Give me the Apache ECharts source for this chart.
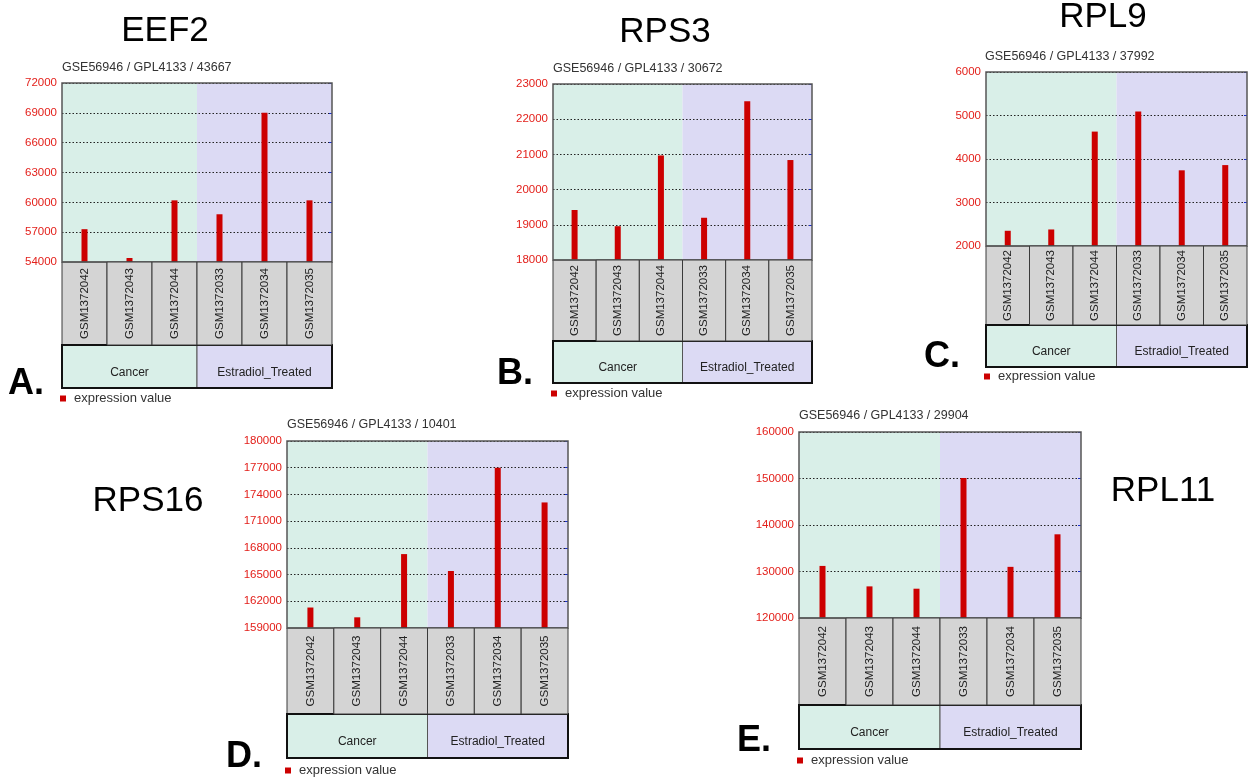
<!DOCTYPE html>
<html>
<head>
<meta charset="utf-8">
<script src="https://cdn.jsdelivr.net/npm/echarts@6/dist/echarts.min.js"></script>
<style>
  html, body { margin: 0; padding: 0; background: #fff; }
  #chart { width: 1253px; height: 781px; }
</style>
</head>
<body>
<div id="chart"></div>
<script>
// Samples (x categories) and their groups
const samples = ['GSM1372042', 'GSM1372043', 'GSM1372044', 'GSM1372033', 'GSM1372034', 'GSM1372035'];
const groupNames = ['Cancer', 'Estradiol_Treated'];
const groupSpans = [[0, 2], [3, 5]];

// Panels: gene, probe path, letter
const genes = ['EEF2', 'RPS3', 'RPL9', 'RPS16', 'RPL11'];
const probes = [
  'GSE56946 / GPL4133 / 43667',
  'GSE56946 / GPL4133 / 30672',
  'GSE56946 / GPL4133 / 37992',
  'GSE56946 / GPL4133 / 10401',
  'GSE56946 / GPL4133 / 29904'
];
const letters = ['A.', 'B.', 'C.', 'D.', 'E.'];

// Expression values per sample
const eef2  = [57300, 54400, 60200, 58800, 69000, 60200];
const rps3  = [19420, 18960, 20970, 19200, 22510, 20840];
const rpl9  = [2350, 2380, 4630, 5090, 3740, 3860];
const rps16 = [161300, 160200, 167300, 165400, 177000, 173100];
const rpl11 = [131200, 126800, 126300, 150100, 131000, 138000];
const values = [eef2, rps3, rpl9, rps16, rpl11];

// Value axis ranges and tick steps
const yMin  = [54000, 18000, 2000, 159000, 120000];
const yMax  = [72000, 23000, 6000, 180000, 160000];
const yStep = [3000, 1000, 1000, 3000, 10000];

// Panel layout (pixels)
const layout = [
  { left: 62,  top: 83,  width: 270, height: 179, cellH: 83, groupH: 43, legendY: 400,
    title: [165, 31], sub: [62, 68],  letter: [8, 384] },
  { left: 553, top: 84,  width: 259, height: 176, cellH: 81, groupH: 42, legendY: 395,
    title: [665, 32], sub: [553, 69], letter: [497, 374] },
  { left: 986, top: 72,  width: 261, height: 174, cellH: 79, groupH: 42, legendY: 378,
    title: [1103, 17], sub: [985, 57], letter: [924, 357] },
  { left: 287, top: 441, width: 281, height: 187, cellH: 86, groupH: 44, legendY: 772,
    title: [148, 501], sub: [287, 425], letter: [226, 757] },
  { left: 799, top: 432, width: 282, height: 186, cellH: 87, groupH: 44, legendY: 762,
    title: [1163, 491], sub: [799, 416], letter: [737, 741] }
];

const FONT = '"Liberation Sans", Arial, sans-serif';
const groupFill = ['#d9efe8', '#dcdaf4'];

// Background bands behind the bars plus the group strip under the sample cells
function bandRenderer(k) {
  const L = layout[k];
  return function (params, api) {
    const s = api.value(0), e = api.value(1), g = api.value(2);
    const bw = api.size([1, 0])[0];
    const x0 = api.coord([s, yMin[k]])[0] - bw / 2;
    const x1 = api.coord([e, yMin[k]])[0] + bw / 2;
    const yb = api.coord([s, yMin[k]])[1];
    const yt = api.coord([s, yMax[k]])[1];
    const gy = yb + L.cellH;
    return {
      type: 'group',
      children: [
        { type: 'rect', shape: { x: x0, y: yt, width: x1 - x0, height: yb - yt },
          style: { fill: groupFill[g] } },
        { type: 'rect', shape: { x: x0, y: gy, width: x1 - x0, height: L.groupH },
          style: { fill: groupFill[g], stroke: '#555', lineWidth: 1 } },
        { type: 'text', x: (x0 + x1) / 2, y: gy + L.groupH * 0.64,
          style: { text: groupNames[g], font: '12px ' + FONT, fill: '#222',
                   align: 'center', verticalAlign: 'middle' } }
      ]
    };
  };
}

// Sample name cells under the plot, plus the plot frame and group strip outline
function cellRenderer(k) {
  const L = layout[k];
  return function (params, api) {
    const i = api.value(0);
    const bw = api.size([1, 0])[0];
    const pt = api.coord([i, yMin[k]]);
    const cx = pt[0], yb = pt[1];
    const children = [
      { type: 'rect', shape: { x: cx - bw / 2, y: yb, width: bw, height: L.cellH },
        style: { fill: '#d4d4d4', stroke: '#3a3a3a', lineWidth: 1 } },
      { type: 'text', x: cx, y: yb + L.cellH / 2, rotation: Math.PI / 2,
        style: { text: samples[i], font: '11.5px ' + FONT, fill: '#222',
                 align: 'center', verticalAlign: 'middle' } }
    ];
    if (params.dataIndex === 0) {
      const cs = params.coordSys;
      children.push(
        { type: 'rect', shape: { x: cs.x, y: cs.y, width: cs.width, height: cs.height },
          style: { fill: 'none', stroke: '#555', lineWidth: 1.5 } },
        { type: 'rect', shape: { x: cs.x, y: cs.y + cs.height + L.cellH, width: cs.width, height: L.groupH },
          style: { fill: 'none', stroke: '#111', lineWidth: 2 } }
      );
    }
    return { type: 'group', children: children };
  };
}

const grids = [], xAxes = [], yAxes = [], series = [], legends = [], graphics = [];

layout.forEach(function (L, k) {
  grids.push({ left: L.left, top: L.top, width: L.width, height: L.height });
  xAxes.push({
    type: 'category', gridIndex: k, data: samples, boundaryGap: true,
    axisLine: { show: false }, axisTick: { show: false }, axisLabel: { show: false },
    splitLine: { show: false }
  });
  yAxes.push({
    type: 'value', gridIndex: k, min: yMin[k], max: yMax[k], interval: yStep[k], z: 3,
    axisLine: { show: false }, axisTick: { show: false },
    axisLabel: { color: '#e3201b', fontSize: 11.5, fontFamily: FONT, margin: 5,
                 formatter: function (v) { return String(v); } },
    splitLine: { show: true, lineStyle: { color: '#222', width: 1, type: [1.5, 2] } }
  });
  // right-edge tick marks
  yAxes.push({
    type: 'value', gridIndex: k, position: 'right', min: yMin[k], max: yMax[k], interval: yStep[k], z: 3,
    axisLine: { show: false }, axisLabel: { show: false }, splitLine: { show: false },
    axisTick: { show: true, inside: true, length: 3, lineStyle: { color: '#1a2fd0', width: 1 } }
  });

  series.push({
    type: 'custom', name: 'bands', xAxisIndex: k, yAxisIndex: 2 * k, z: 1, clip: false, silent: true,
    renderItem: bandRenderer(k),
    data: groupSpans.map(function (sp, g) { return [sp[0], sp[1], g]; })
  });
  series.push({
    type: 'bar', name: 'expression value', xAxisIndex: k, yAxisIndex: 2 * k, z: 4,
    barWidth: 6, itemStyle: { color: '#cc0000' },
    data: values[k]
  });
  series.push({
    type: 'custom', name: 'cells', xAxisIndex: k, yAxisIndex: 2 * k, z: 5, clip: false, silent: true,
    renderItem: cellRenderer(k),
    data: samples.map(function (s, i) { return [i, yMin[k]]; })
  });

  legends.push({
    left: L.left - 2, top: L.legendY - 8, data: ['expression value'], selectedMode: false,
    icon: 'rect', itemWidth: 6, itemHeight: 6, padding: 0,
    textStyle: { fontSize: 13, color: '#333', fontFamily: FONT, padding: [0, 0, 0, 3] }
  });

  graphics.push(
    { type: 'text', x: L.title[0], y: L.title[1],
      style: { text: genes[k], font: '35px ' + FONT, fill: '#000', align: 'center', verticalAlign: 'middle' } },
    { type: 'text', x: L.sub[0], y: L.sub[1],
      style: { text: probes[k], font: '12.5px ' + FONT, fill: '#333', align: 'left', verticalAlign: 'middle' } },
    { type: 'text', x: L.letter[0], y: L.letter[1],
      style: { text: letters[k], font: 'bold 36px ' + FONT, fill: '#000', align: 'left', verticalAlign: 'middle' } }
  );
});

const chart = echarts.init(document.getElementById('chart'), null, { renderer: 'canvas' });
chart.setOption({
  animation: false,
  backgroundColor: '#fff',
  grid: grids,
  xAxis: xAxes,
  yAxis: yAxes,
  legend: legends,
  series: series,
  graphic: graphics
});
</script>
</body>
</html>
